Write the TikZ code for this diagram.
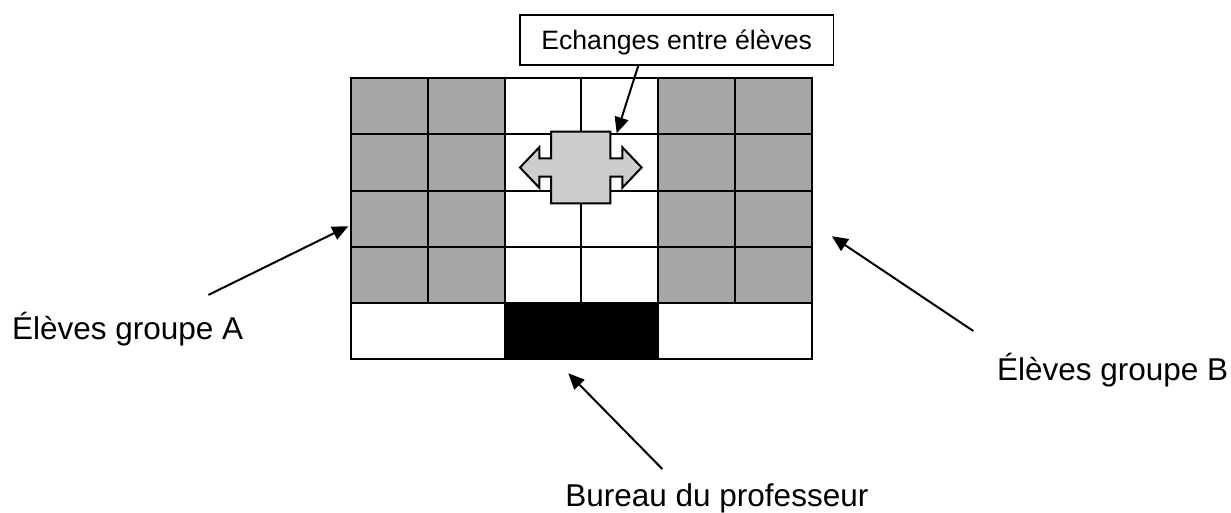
\documentclass[tikz,border=0pt]{standalone}
\usepackage{fontspec}
\setmainfont{Liberation Sans}
\usetikzlibrary{arrows.meta,positioning}
\definecolor{seat}{HTML}{A6A6A6}
\definecolor{swap}{HTML}{CDCCCE}

\begin{document}
\begin{tikzpicture}[x=0.5pt,y=-0.5pt,>={Triangle[length=8pt,width=7pt]},
  cell/.style={draw=black,line width=1pt,minimum width=38.4pt,minimum height=28.1pt,inner sep=0pt,outer sep=0pt},
  lbl/.style={inner sep=0pt,font=\fontsize{15.75pt}{19pt}\selectfont}]
\useasboundingbox (0,0) rectangle (1231,513);
% rangs de tables
\foreach \r in {1,...,4}
  \foreach \c/\f in {1/seat,2/seat,3/white,4/white,5/seat,6/seat}
    \node[cell,fill=\f] (t\r\c) at ({351+76.8*(\c-0.5)},{78.3+56.2*(\r-0.5)}) {};
% dernier rang et bureau
\node[cell,fill=white,minimum width=76.8pt] (vl) at (427.8,331.2) {};
\node[cell,fill=white,minimum width=76.8pt] (vr) at (735,331.2) {};
\node[cell,fill=black,minimum width=76.8pt] (desk) at (581.4,331.2) {};
% double fleche
\coordinate (ech) at (580.8,167.5);
\draw[line width=1pt,fill=swap,shift={(ech)}] (-29.65,-35.8) -- (29.65,-35.8) -- (29.65,-9.2) -- (41.5,-9.2) -- (41.5,-20.3) -- (60.8,0)
  -- (41.5,20.3) -- (41.5,9.2) -- (29.65,9.2) -- (29.65,35.8) -- (-29.65,35.8) -- (-29.65,9.2) -- (-41.5,9.2) -- (-41.5,20.3)
  -- (-60.8,0) -- (-41.5,-20.3) -- (-41.5,-9.2) -- (-29.65,-9.2) -- cycle;
% legendes
\node[draw,line width=0.6pt,minimum width=156.7pt,minimum height=25pt,inner sep=0pt,text height=12pt,text depth=2.7pt,
  font=\fontsize{13.3pt}{16pt}\selectfont] (echlbl) at (676.7,40) {Echanges entre élèves};
\node[lbl,anchor=base west] (grpA) at (11.7,339.3) {Élèves groupe A};
\node[lbl,anchor=base west] (grpB) at (996.7,380) {Élèves groupe B};
\node[lbl,anchor=base west] (prof) at (565,506) {Bureau du professeur};
\draw[->,line width=1pt] ([xshift=-19.2pt]echlbl.south) -- ([shift={(17.95pt,17.1pt)}]ech);
\draw[->,line width=1pt] ([shift={(-17.6pt,22.2pt)}]grpA.base east) -- ([shift={(-1.35pt,-3.7pt)}]t31.west);
\draw[->,line width=1pt] ([shift={(-11.7pt,24.5pt)}]grpB.base west) -- ([shift={(10pt,-8.7pt)}]t36.east);
\draw[->,line width=1pt] ([shift={(48.65pt,18.5pt)}]prof.base west) -- ([shift={(-6.55pt,-7pt)}]desk.south);
\end{tikzpicture}
\end{document}
